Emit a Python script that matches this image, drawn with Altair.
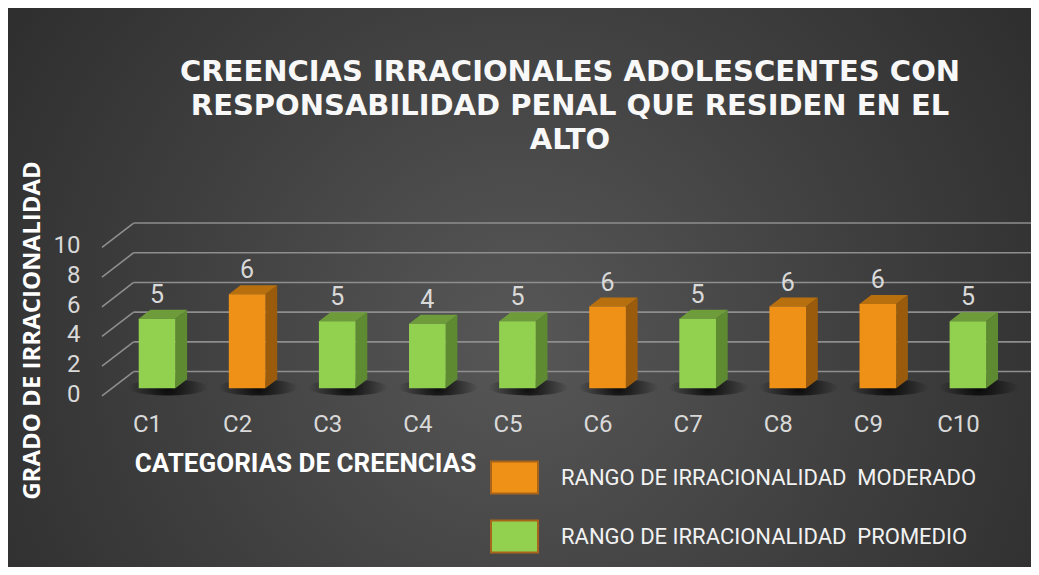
import altair as alt
import pandas as pd

# ---------------- data ----------------
categories = ["C1", "C2", "C3", "C4", "C5", "C6", "C7", "C8", "C9", "C10"]
values = [4.67, 6.33, 4.5, 4.33, 4.5, 5.5, 4.67, 5.5, 5.67, 4.5]
rango = ["PROMEDIO", "MODERADO", "PROMEDIO", "PROMEDIO", "PROMEDIO",
         "MODERADO", "PROMEDIO", "MODERADO", "MODERADO", "PROMEDIO"]
y_ticks = [0, 2, 4, 6, 8, 10]
legend_keys = ["MODERADO", "PROMEDIO"]
legend_labels = ["RANGO DE IRRACIONALIDAD\u00a0 MODERADO",
                 "RANGO DE IRRACIONALIDAD\u00a0 PROMEDIO"]
title_lines = ["CREENCIAS IRRACIONALES ADOLESCENTES CON",
               "RESPONSABILIDAD PENAL QUE RESIDEN EN EL",
               "ALTO"]
x_title = "CATEGORIAS DE CREENCIAS"
y_title = "GRADO DE IRRACIONALIDAD"

# ---------------- style / geometry ----------------
front_col = {"MODERADO": "#ef9116", "PROMEDIO": "#92d050"}
top_col = {"MODERADO": "#b8700f", "PROMEDIO": "#6e9c3a"}
side_col = {"MODERADO": "#9a5c0c", "PROMEDIO": "#5e8a32"}
BAR_W = 0.407
DEPTH_X, DEPTH_Y = 0.13, 0.607
FRONT_DX, FRONT_DY = -0.111, -0.519
BACK_DX, BACK_DY = 0.240, 1.12
X0, X1 = -0.5, 9.5

W, H = 901, 193
PAD = {"left": 104, "top": 202, "right": 18, "bottom": 164}
FONT = "Roboto"
LABEL_C = "#d9d9d9"

xs = alt.Scale(domain=[X0, X1], nice=False, zero=False)
ys = alt.Scale(domain=[-1, 12], nice=False, zero=False)

labels_js = "[" + ",".join("'%s'" % c for c in categories) + "]"

X_AX = alt.Axis(
    values=list(range(len(categories))), zindex=5,
    labelExpr=labels_js + "[datum.value]",
    labelOffset=-10, labelPadding=9, labelFontSize=24, labelColor=LABEL_C,
    labelFont=FONT, domain=False, ticks=False, tickSize=0, grid=False,
    title=x_title, titleFont=FONT, titleFontSize=26, titleFontWeight="bold",
    titleColor="#ffffff", titleX=193, titleY=60, titleAlign="center",
    titleBaseline="middle")
Y_AX = alt.Axis(
    values=y_ticks, zindex=5, labelOffset=6, labelPadding=32, labelFontSize=24,
    labelColor=LABEL_C, labelFont=FONT, domain=False, ticks=False,
    tickSize=0, grid=False,
    title=y_title, titleFont="Open Sans", titleFontSize=24,
    titleFontWeight="bold", titleColor="#ffffff", titleAngle=270,
    titleX=-80, titleY=120, titleAlign="center", titleBaseline="middle")

# ---------------- tables ----------------
bars = pd.DataFrame({"idx": range(len(categories)), "cat": categories,
                     "value": values, "rango": rango})
bars["xl"] = bars["idx"] - BAR_W / 2
bars["xr"] = bars["idx"] + BAR_W / 2
bars["legend"] = bars["rango"].map(dict(zip(legend_keys, legend_labels)))

side_rows, top_rows = [], []
for _, r in bars.iterrows():
    c = side_col[r.rango]
    side_rows += [
        {"id": r.idx, "x": r.xr, "lo": 0, "hi": r.value, "c": c},
        {"id": r.idx, "x": r.xr + DEPTH_X, "lo": DEPTH_Y, "hi": r.value + DEPTH_Y, "c": c},
    ]
    c = top_col[r.rango]
    top_rows += [
        {"id": r.idx, "x": r.xl, "lo": r.value, "hi": r.value, "c": c},
        {"id": r.idx, "x": r.xl + DEPTH_X, "lo": r.value, "hi": r.value + DEPTH_Y, "c": c},
        {"id": r.idx, "x": r.xr, "lo": r.value, "hi": r.value + DEPTH_Y, "c": c},
        {"id": r.idx, "x": r.xr + DEPTH_X, "lo": r.value + DEPTH_Y, "hi": r.value + DEPTH_Y, "c": c},
    ]
side_df = pd.DataFrame(side_rows)
top_df = pd.DataFrame(top_rows)

grid_df = pd.DataFrame({"v": y_ticks})
grid_df["bx1"] = X0 + BACK_DX
grid_df["bx2"] = X1 + BACK_DX
grid_df["by"] = grid_df["v"] + BACK_DY
grid_df["fx"] = X0 + FRONT_DX
grid_df["fy"] = grid_df["v"] + FRONT_DY

# ---------------- layers ----------------
bg_grad = alt.Gradient(
    gradient="radial",
    stops=[alt.GradientStop(color="#575757", offset=0),
           alt.GradientStop(color="#3f3f3f", offset=0.45),
           alt.GradientStop(color="#242424", offset=1)],
    x1=0.5, y1=0.55, x2=0.5, y2=0.55, r1=0, r2=0.75)

bg = alt.Chart(pd.DataFrame({"a": [0]})).mark_rect(fill=bg_grad).encode(
    x=alt.value(-PAD["left"]), x2=alt.value(W + PAD["right"]),
    y=alt.value(-PAD["top"]), y2=alt.value(H + PAD["bottom"]))

title_mark = alt.Chart(pd.DataFrame({"a": [0]})).mark_text(
    text="\n".join(title_lines), lineBreak="\n", lineHeight=34,
    font="DejaVu Sans", fontSize=29, fontWeight="bold", color="#f8f8f8",
    align="center", baseline="middle"
).encode(x=alt.value(570 - 112), y=alt.value(72 - 210))

grid_back = alt.Chart(grid_df).mark_rule(color="#8e8e8e", strokeWidth=1.6).encode(
    x=alt.X("bx1:Q", scale=xs, axis=X_AX), x2="bx2:Q",
    y=alt.Y("by:Q", scale=ys, axis=Y_AX))

grid_side = alt.Chart(grid_df).mark_rule(color="#8e8e8e", strokeWidth=1.6).encode(
    x=alt.X("fx:Q", scale=xs, axis=X_AX), x2="bx1:Q",
    y=alt.Y("fy:Q", scale=ys, axis=Y_AX), y2="by:Q")

shadow_grad = alt.Gradient(
    gradient="radial",
    stops=[alt.GradientStop(color="rgba(0,0,0,0.85)", offset=0),
           alt.GradientStop(color="rgba(0,0,0,0)", offset=1)],
    x1=0.5, y1=0.5, x2=0.5, y2=0.5, r1=0, r2=0.5)

shadows = alt.Chart(bars).mark_point(
    shape="M-1,0A1,0.2 0 1,1 1,0A1,0.2 0 1,1 -1,0Z",
    filled=True, fill=shadow_grad, strokeWidth=0, size=6400, opacity=1
).transform_calculate(sx="datum.idx + 0.12", sy="0.05").encode(
    x=alt.X("sx:Q", scale=xs, axis=X_AX), y=alt.Y("sy:Q", scale=ys, axis=Y_AX))

side = alt.Chart(side_df).mark_area(opacity=1, strokeWidth=0).encode(
    x=alt.X("x:Q", scale=xs, axis=X_AX),
    y=alt.Y("lo:Q", scale=ys, axis=Y_AX), y2="hi:Q",
    fill=alt.Fill("c:N", scale=None), detail="id:N")

top = alt.Chart(top_df).mark_area(opacity=1, strokeWidth=0).encode(
    x=alt.X("x:Q", scale=xs, axis=X_AX),
    y=alt.Y("lo:Q", scale=ys, axis=Y_AX), y2="hi:Q",
    fill=alt.Fill("c:N", scale=None), detail="id:N")

front = alt.Chart(bars).mark_rect(strokeWidth=0).encode(
    x=alt.X("xl:Q", scale=xs, axis=X_AX),
    x2="xr:Q",
    y=alt.Y("value:Q", scale=ys, axis=Y_AX),
    y2=alt.datum(0),
    color=alt.Color("legend:N",
                    scale=alt.Scale(domain=legend_labels,
                                    range=[front_col[k] for k in legend_keys]),
                    legend=alt.Legend(
                        title=None, orient="none", legendX=378, legendY=243,
                        symbolType="M-1,-0.68H1V0.68H-1Z", symbolSize=2209,
                        symbolStrokeColor="#a8641a", symbolStrokeWidth=2,
                        symbolOpacity=1, labelFont=FONT, labelFontSize=22,
                        labelColor="#f2f2f2", labelOffset=22, rowPadding=14,
                        padding=0, labelLimit=600, zindex=5)))

text = alt.Chart(bars).mark_text(
    font=FONT, fontSize=25, color=LABEL_C, baseline="alphabetic", dy=-16
).transform_calculate(lab="round(datum.value)").encode(
    x=alt.X("idx:Q", scale=xs, axis=X_AX),
    y=alt.Y("value:Q", scale=ys, axis=Y_AX),
    text="lab:N")

chart = alt.layer(bg, title_mark, grid_back, grid_side, shadows, side, top,
                  front, text).properties(
    width=W, height=H, autosize="none", padding=PAD, background="#262626"
).configure_view(stroke=None)

chart.save("out.html", embed_options={"renderer": "svg", "actions": False})
